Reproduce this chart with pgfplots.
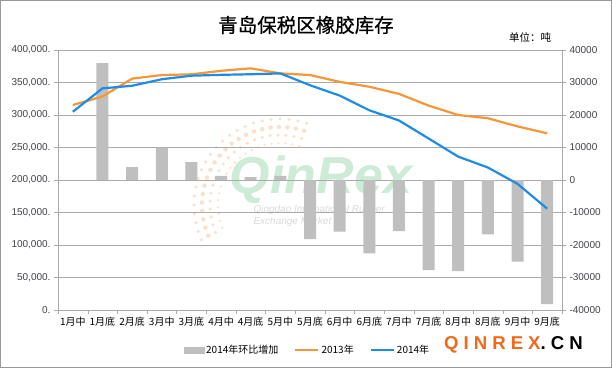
\documentclass[border=0pt]{standalone}
\usepackage{pgfplots}
\pgfplotsset{compat=1.18}
\usepackage{fontspec}
\setmainfont{Liberation Sans}
\newfontfamily\cjk{Noto Sans CJK SC}
\newfontfamily\cjkt[FakeBold=0.6]{Noto Sans CJK SC}
\newfontfamily\logofont[LetterSpace=27]{Liberation Sans}
\definecolor{c13}{RGB}{245,150,55}
\definecolor{c14}{RGB}{30,140,230}
\definecolor{barg}{RGB}{191,191,191}
\definecolor{gridc}{RGB}{170,170,170}
\definecolor{tickc}{RGB}{64,64,72}
\definecolor{logoor}{RGB}{240,105,25}
\definecolor{wmgreen}{RGB}{205,235,215}
\definecolor{wmdot}{RGB}{251,225,202}
\begin{document}
\begin{tikzpicture}
\begin{scope}[x=1pt,y=1pt,shift={(-58pt,-58pt)}]
\path[use as bounding box] (0,0) rectangle (612,368);
\draw[gray!80, line width=0.8pt] (0.4,0.4) rectangle (611.6,367.6);
% watermark
\draw[wmdot, line width=2.5pt, line cap=round, dash pattern=on 0pt off 7pt] (280,163) ++(72:62) arc (72:205:62);
\draw[wmdot, line width=3.5pt, line cap=round, dash pattern=on 0pt off 8pt] (280,163) ++(72:70) arc (72:205:70);
\draw[wmdot, line width=4.5pt, line cap=round, dash pattern=on 0pt off 8.5pt] (280,163) ++(72:78) arc (72:205:78);
\draw[wmdot, line width=3.5pt, line cap=round, dash pattern=on 0pt off 9pt] (280,163) ++(72:86) arc (72:205:86);
\node[font=\fontsize{52}{56}\selectfont\bfseries\itshape, text=wmgreen] at (321,188) {QinRex};
\node[anchor=west, font=\fontsize{10}{12}\selectfont\itshape, text=gray!30] at (250,158) {Qingdao International Rubber};
\node[anchor=west, font=\fontsize{10}{12}\selectfont\itshape, text=gray!30] at (250,146) {Exchange Market};
\end{scope}
% bars on right axis
\begin{axis}[
  scale only axis,
  width=504pt, height=260pt,
  xmin=-0.5, xmax=16.5, ymin=-40000, ymax=40000,
  axis x line=none, axis y line*=right,
  axis line style={draw=gridc,-},
  scaled y ticks=false,
  ytick={-40000,-30000,-20000,-10000,0,10000,20000,30000,40000},
  yticklabels={-40000,-30000,-20000,-10000,0,10000,20000,30000,40000},
  ymajorgrids, grid style={gridc, line width=0.6pt},
  tick align=outside, major tick length=4pt, tick style={gridc},
  yticklabel style={font=\fontsize{10}{12}\selectfont, text=tickc},
]
\addplot[ybar, bar width=12pt, fill=barg, draw=none] coordinates {
(1,36000) (2,4000) (3,10000) (4,5500) (5,1300) (6,900) (7,1300)
(8,-18200) (9,-15900) (10,-22600) (11,-15700) (12,-27700) (13,-28000)
(14,-16700) (15,-25100) (16,-38200)};
\end{axis}
% lines on left axis
\begin{axis}[
  scale only axis,
  width=504pt, height=260pt,
  xmin=-0.5, xmax=16.5, ymin=0, ymax=400000,
  axis x line*=bottom, axis y line*=left,
  axis line style={draw=gridc,-},
  scaled y ticks=false,
  xtick={0,...,16},
  xticklabels={1月中,1月底,2月底,3月中,3月底,4月中,4月底,5月中,5月底,6月中,6月底,7月中,7月底,8月中,8月底,9月中,9月底},
  minor xtick={-0.5,0.5,...,16.5},
  ytick={0,50000,100000,150000,200000,250000,300000,350000,400000},
  yticklabels={0.,{50,000.},{100,000.},{150,000.},{200,000.},{250,000.},{300,000.},{350,000.},{400,000.}},
  tick align=outside, major tick length=4pt, minor tick length=4pt,
  tick style={gridc}, major x tick style={draw=none}, minor x tick style={gridc},
  xticklabel style={font=\cjk\fontsize{10}{12}\selectfont, text=black},
  yticklabel style={font=\fontsize{10}{12}\selectfont, text=tickc},
  legend columns=3,
  legend style={draw=none, fill=none, at={(0.495,-0.154)}, anchor=center,
    font=\cjk\fontsize{10}{12}\selectfont,
    /tikz/every even column/.append style={column sep=14pt}},
]
\addlegendimage{legend image code/.code={\fill[barg] (0pt,-3pt) rectangle (20pt,3pt);}}
\addlegendentry{2014年环比增加}
\addplot[c13, line width=2.2pt, line join=round,
  legend image code/.code={\draw[c13, line width=2.2pt] (0pt,0pt) -- (23pt,0pt);}] coordinates {
(0,315400) (1,328500) (2,356000) (3,361500) (4,362600) (5,368000) (6,371800)
(7,364000) (8,361500) (9,351000) (10,343500) (11,332500) (12,314500)
(13,300000) (14,295000) (15,282500) (16,271800)};
\addlegendentry{2013年}
\addplot[c14, line width=2.2pt, line join=round,
  legend image code/.code={\draw[c14, line width=2.2pt] (0pt,0pt) -- (23pt,0pt);}] coordinates {
(0,305000) (1,341000) (2,345000) (3,355000) (4,360500) (5,361800) (6,362700)
(7,364000) (8,345800) (9,329900) (10,307300) (11,291600) (12,263900)
(13,235900) (14,219200) (15,194100) (16,155900)};
\addlegendentry{2014年}
\end{axis}
% titles and logo
\begin{scope}[x=1pt,y=1pt,shift={(-58pt,-58pt)}]
\node[font=\cjkt\fontsize{19.5}{22}\selectfont] at (306,343) {青岛保税区橡胶库存};
\node[font=\cjk\fontsize{10.5}{12}\selectfont] at (530,331) {单位：吨};
\node[anchor=west, inner sep=0pt, font=\logofont\bfseries\fontsize{18.6}{22}\selectfont] at (444,23)
  {\textcolor{logoor}{QINREX}\textcolor{black}{.CN}};
\end{scope}
\end{tikzpicture}
\end{document}
